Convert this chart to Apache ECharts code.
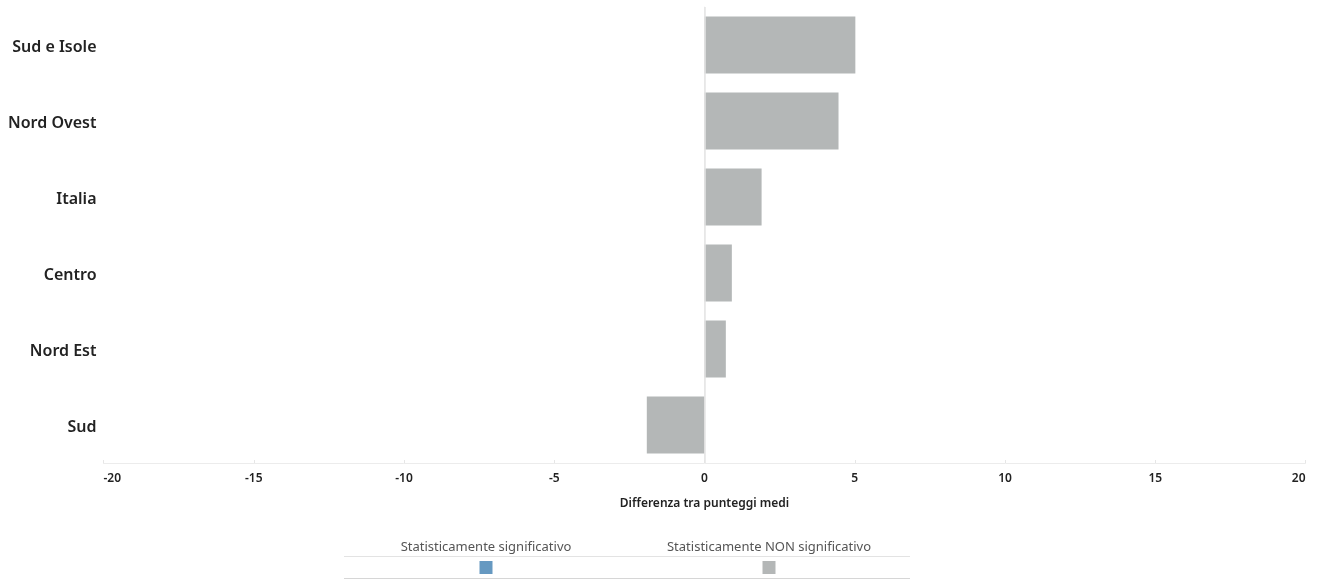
<!DOCTYPE html>
<html>
<head>
<meta charset="utf-8">
<script src="https://cdn.jsdelivr.net/npm/echarts@6/dist/echarts.min.js"></script>
<style>
html,body{margin:0;padding:0;background:#fff;}
#c{width:1325px;height:580px;}
</style>
</head>
<body>
<div id="c"></div>
<script>
const categories = ['Sud e Isole', 'Nord Ovest', 'Italia', 'Centro', 'Nord Est', 'Sud'];
const values = [5.02, 4.46, 1.9, 0.91, 0.71, -1.92];
const significant = [false, false, false, false, false, false];
const xTicks = [-20, -15, -10, -5, 0, 5, 10, 15, 20];
const legendLabels = ['Statisticamente significativo', 'Statisticamente NON significativo'];
const legendColors = ['#6699c1', '#b4b7b7'];

const FONT = '"Noto Sans", "Open Sans", sans-serif';
const chart = echarts.init(document.getElementById('c'), null, {renderer: 'canvas'});

const legendCenters = [486, 769];
const graphics = [
  {type: 'line', shape: {x1: 344, y1: 556.5, x2: 910, y2: 556.5}, style: {stroke: '#e3e3e3', lineWidth: 1}},
  {type: 'line', shape: {x1: 344, y1: 578.5, x2: 910, y2: 578.5}, style: {stroke: '#d6d6d6', lineWidth: 1}}
];
legendLabels.forEach((t, i) => {
  graphics.push({type: 'text', x: legendCenters[i], y: 547, style: {text: t, fill: '#555', font: '13px ' + FONT, align: 'center', verticalAlign: 'middle'}});
  graphics.push({type: 'rect', shape: {x: legendCenters[i] - 6.5, y: 561, width: 13, height: 13}, style: {fill: legendColors[i]}});
});

chart.setOption({
  animation: false,
  grid: {left: 103.5, right: 19.5, top: 7, height: 456, containLabel: false},
  xAxis: {
    type: 'value', min: -20, max: 20, interval: 5,
    name: 'Differenza tra punteggi medi', nameLocation: 'middle', nameGap: 35,
    nameTextStyle: {fontFamily: FONT, fontSize: 12, fontWeight: 600, color: '#222'},
    axisLine: {show: true, lineStyle: {color: '#ececec', width: 1}},
    axisTick: {show: true, inside: true, length: 3, lineStyle: {color: '#e6e6e6'}},
    splitLine: {show: false},
    axisLabel: {
      fontFamily: FONT, fontSize: 12, fontWeight: 600, color: '#222', margin: 10,
      alignMinLabel: 'left', alignMaxLabel: 'right',
      formatter: v => xTicks.includes(v) ? String(v) : ''
    }
  },
  yAxis: {
    type: 'category', data: categories, inverse: true,
    axisLine: {show: true, lineStyle: {color: '#f0f0f0', width: 1}},
    axisTick: {show: false},
    splitLine: {show: false},
    axisLabel: {fontFamily: FONT, fontSize: 16, fontWeight: 600, color: '#222', margin: 7, verticalAlign: 'top', lineHeight: 5}
  },
  series: [{
    type: 'bar',
    data: values.map((v, i) => ({value: v, itemStyle: {color: significant[i] ? legendColors[0] : legendColors[1]}})),
    barCategoryGap: '25%',
    markLine: {
      silent: true, symbol: 'none', label: {show: false},
      lineStyle: {color: '#e4e4e4', type: 'solid', width: 1.5},
      data: [{xAxis: 0}]
    }
  }],
  graphic: graphics
});
</script>
</body>
</html>
